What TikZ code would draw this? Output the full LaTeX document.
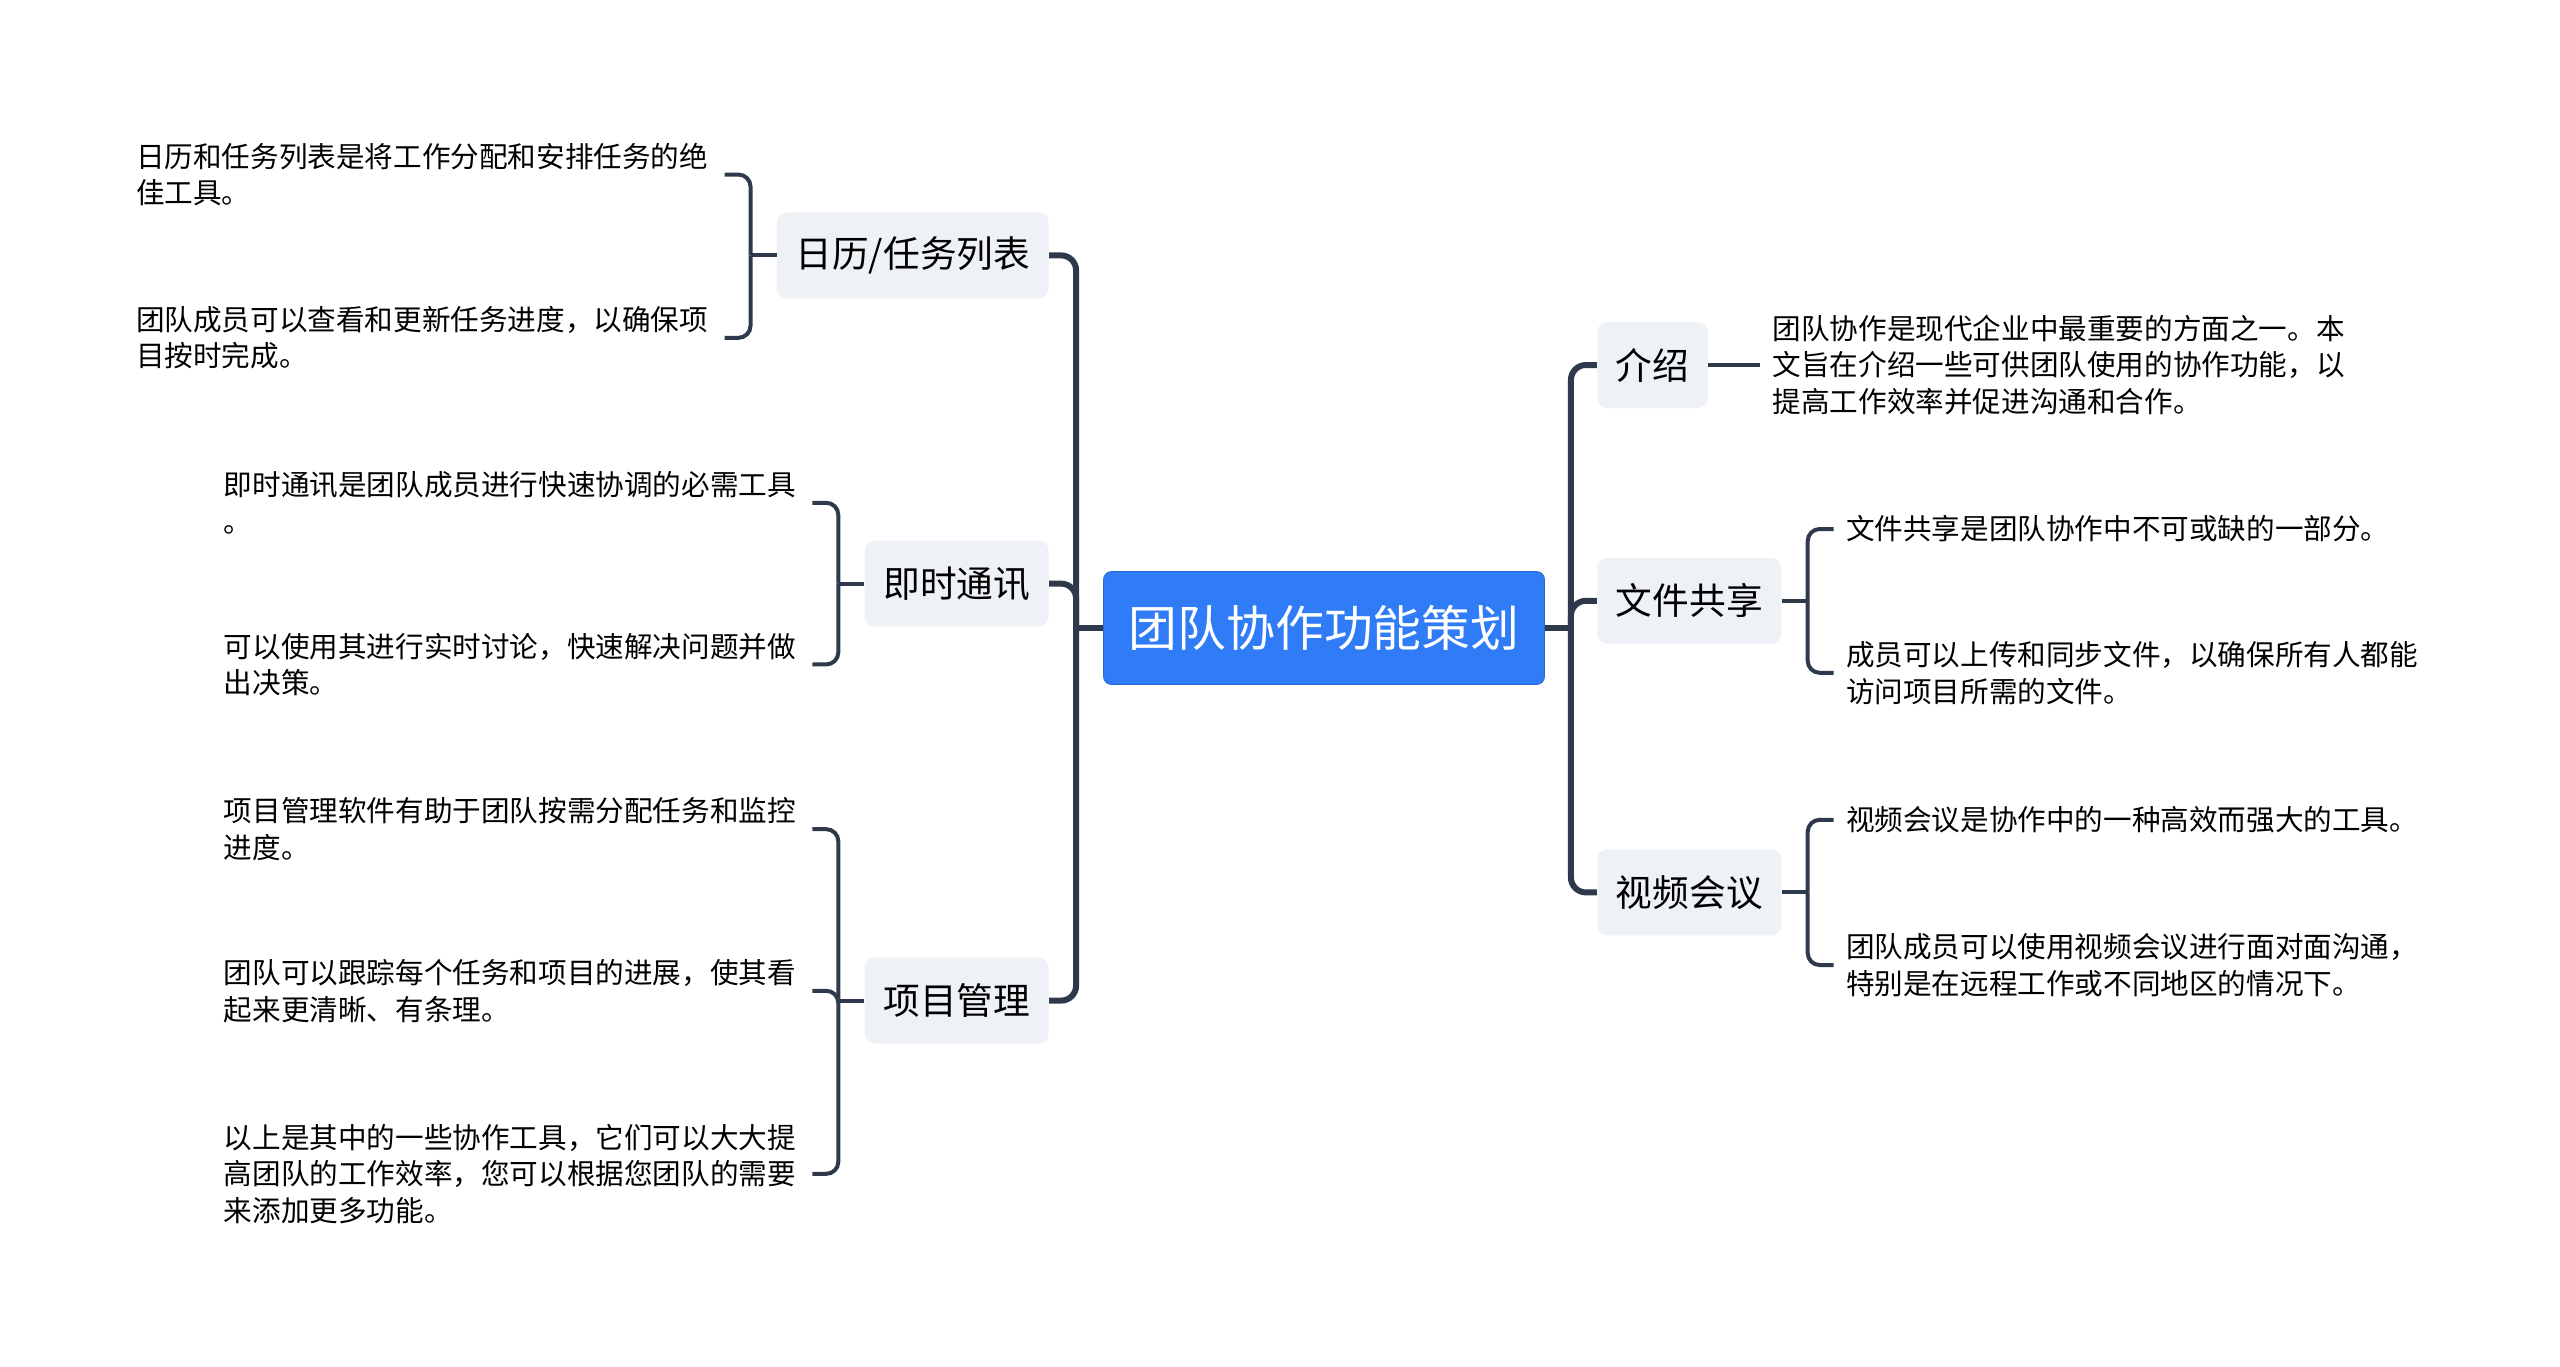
\documentclass[tikz,border=0pt]{standalone}
\usepackage{fontspec}
\setmainfont{Noto Sans CJK SC}
\usetikzlibrary{positioning}
\definecolor{lineDark}{HTML}{2E3A4C}
\definecolor{boxGray}{HTML}{EEF1F5}
\definecolor{topicBlue}{HTML}{2F7CF6}
\tikzstyle{topic} = [rectangle, rounded corners=4pt, minimum width=220.5pt, minimum height=56.5pt, text centered, draw=topicBlue!85!black, fill=topicBlue, text=white, font=\fontsize{24.4}{29}\selectfont]
\tikzstyle{branch} = [rectangle, rounded corners=5pt, minimum height=43pt, inner xsep=9.3pt, text centered, fill=boxGray, font=\fontsize{18.35}{22}\selectfont]
\tikzstyle{leaf} = [rectangle, text width=288pt, inner xsep=6pt, inner ysep=0pt, align=left, font=\fontsize{14.3}{18.35}\selectfont]
\tikzstyle{link} = [line width=3pt, draw=lineDark, rounded corners=7.5pt]
\tikzstyle{twig} = [line width=2pt, draw=lineDark, rounded corners=6pt]

\begin{document}
\begin{tikzpicture}[x=0.5pt, y=-0.5pt]
    \useasboundingbox (0,0) rectangle (2560,1366);
    \node (mainTopic) [topic] at (1324,628) {团队协作功能策划};

    % left side
    \node (calendar) [branch, left=27pt of mainTopic, yshift=186.3pt] {日历/任务列表};
    \node (instantMsg) [branch, left=27pt of mainTopic, yshift=22.2pt] {即时通讯};
    \node (projectMgmt) [branch, left=27pt of mainTopic, yshift=-186.3pt] {项目管理};

    \node (calendarA) [leaf, left=26pt of calendar, yshift=40.4pt] {日历和任务列表是将工作分配和安排任务的绝\\佳工具。};
    \node (calendarB) [leaf, left=26pt of calendar, yshift=-41.2pt] {团队成员可以查看和更新任务进度，以确保项\\目按时完成。};
    \node (instantMsgA) [leaf, left=26pt of instantMsg, yshift=40.4pt] {即时通讯是团队成员进行快速协调的必需工具\\。};
    \node (instantMsgB) [leaf, left=26pt of instantMsg, yshift=-40.4pt] {可以使用其进行实时讨论，快速解决问题并做\\出决策。};
    \node (projectMgmtA) [leaf, left=26pt of projectMgmt, yshift=85.7pt] {项目管理软件有助于团队按需分配任务和监控\\进度。};
    \node (projectMgmtB) [leaf, left=26pt of projectMgmt, yshift=4.9pt] {团队可以跟踪每个任务和项目的进展，使其看\\起来更清晰、有条理。};
    \node (projectMgmtC) [leaf, left=26pt of projectMgmt, yshift=-86.6pt] {以上是其中的一些协作工具，它们可以大大提\\高团队的工作效率，您可以根据您团队的需要\\来添加更多功能。};

    % right side
    \node (intro) [branch, right=26pt of mainTopic, yshift=131.5pt] {介绍};
    \node (fileShare) [branch, right=26pt of mainTopic, yshift=13.6pt] {文件共享};
    \node (videoConf) [branch, right=26pt of mainTopic, yshift=-132.2pt] {视频会议};

    \node (introA) [leaf, right=26pt of intro] {团队协作是现代企业中最重要的方面之一。本\\文旨在介绍一些可供团队使用的协作功能，以\\提高工作效率并促进沟通和合作。};
    \node (fileShareA) [leaf, right=26pt of fileShare, yshift=35.9pt] {文件共享是团队协作中不可或缺的一部分。};
    \node (fileShareB) [leaf, right=26pt of fileShare, yshift=-36pt] {成员可以上传和同步文件，以确保所有人都能\\访问项目所需的文件。};
    \node (videoConfA) [leaf, right=26pt of videoConf, yshift=36.3pt] {视频会议是协作中的一种高效而强大的工具。};
    \node (videoConfB) [leaf, right=26pt of videoConf, yshift=-36.3pt] {团队成员可以使用视频会议进行面对面沟通，\\特别是在远程工作或不同地区的情况下。};

    \coordinate [left=13.5pt of mainTopic] (lt);
    \coordinate [right=13pt of mainTopic] (rt);
    \coordinate [left=13pt of calendar] (jcal);
    \coordinate [left=13pt of instantMsg] (jmsg);
    \coordinate [left=13pt of projectMgmt] (jpm);
    \coordinate [right=13pt of fileShare] (jfile);
    \coordinate [right=13pt of videoConf] (jvideo);

    \draw [link] (mainTopic) -- (lt);
    \draw [link] (calendar) -| (lt);
    \draw [link] (instantMsg) -| (lt);
    \draw [link] (projectMgmt) -| (lt);
    \draw [link] (mainTopic) -- (rt);
    \draw [link] (intro) -| (rt);
    \draw [link] (fileShare) -| (rt);
    \draw [link] (videoConf) -| (rt);

    \draw [twig] (calendar) -- (jcal);
    \draw [twig] (calendarA) -| (jcal);
    \draw [twig] (calendarB) -| (jcal);
    \draw [twig] (instantMsg) -- (jmsg);
    \draw [twig] (instantMsgA) -| (jmsg);
    \draw [twig] (instantMsgB) -| (jmsg);
    \draw [twig] (projectMgmt) -- (jpm);
    \draw [twig] (projectMgmtA) -| (jpm);
    \draw [twig] (projectMgmtB) -| (jpm);
    \draw [twig] (projectMgmtC) -| (jpm);
    \draw [twig] (intro) -- (introA);
    \draw [twig] (fileShare) -- (jfile);
    \draw [twig] (fileShareA) -| (jfile);
    \draw [twig] (fileShareB) -| (jfile);
    \draw [twig] (videoConf) -- (jvideo);
    \draw [twig] (videoConfA) -| (jvideo);
    \draw [twig] (videoConfB) -| (jvideo);
\end{tikzpicture}
\end{document}
